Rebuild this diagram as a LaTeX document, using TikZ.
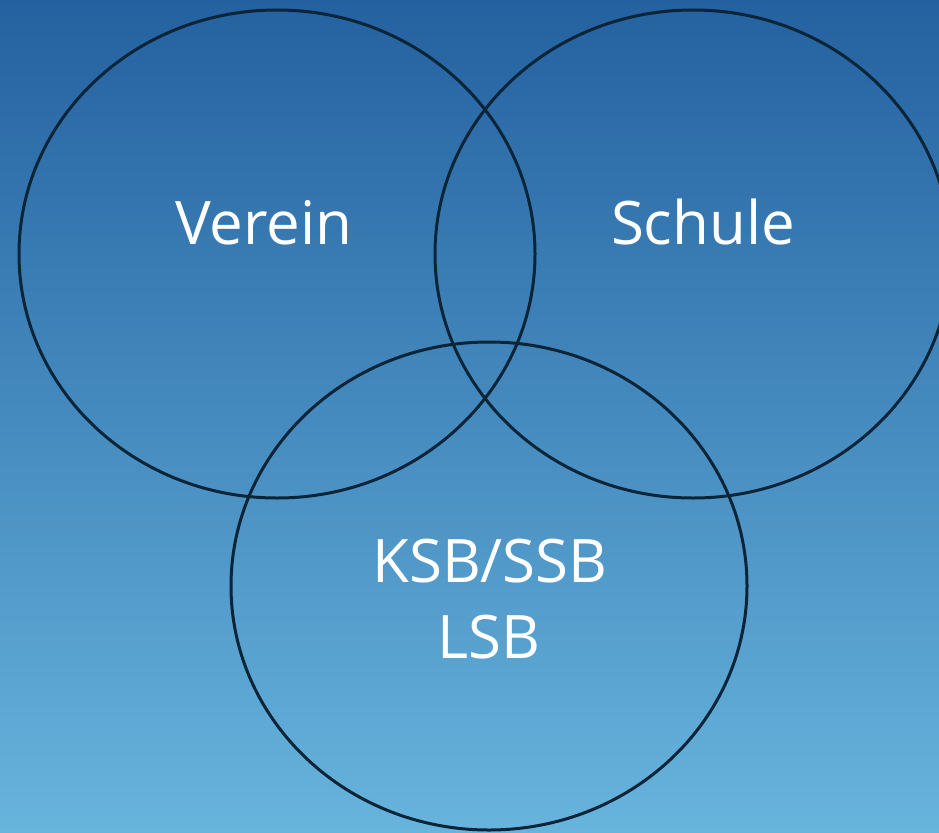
\documentclass[tikz,border=0pt]{standalone}
\usepackage{fontspec}
\setmainfont{Open Sans}
\usetikzlibrary{shapes.geometric}
\definecolor{bgtop}{HTML}{2461A0}
\definecolor{bgbot}{HTML}{67B4DD}
\definecolor{ring}{HTML}{0A2438}
\tikzset{
  ring/.style={draw=ring, line width=3pt, ellipse, minimum width=516pt, minimum height=488pt, inner sep=0pt},
  lbl/.style={text=white, font=\fontsize{60}{76}\selectfont, anchor=base, inner sep=0pt}
}
\begin{document}
\begin{tikzpicture}[x=1pt,y=-1pt]
\useasboundingbox (0,0) rectangle (939,832);
\shade[top color=bgtop, bottom color=bgbot] (0,0) rectangle (939,832);
\clip (0,0) rectangle (939,832);
\node[ring] (verein) at (277,254) {};
\node[ring] (schule) at (693,254) {};
\node[ring] (ksb) at (489,586) {};
\node[lbl] (tv) at (264,244) {Verein};
\node[lbl] (ts) at (703,244) {Schule};
\node[lbl] (tk) at (490,582) {KSB/SSB};
\node[lbl] (tl) at (489,658) {LSB};
\end{tikzpicture}
\end{document}
